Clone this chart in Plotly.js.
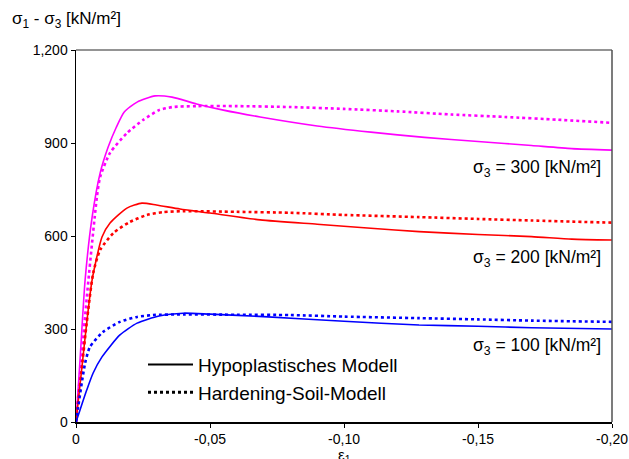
<!DOCTYPE html>
<html>
<head>
<meta charset="utf-8">
<script src="https://cdn.plot.ly/plotly-3.0.1.min.js"></script>
<style>html,body{margin:0;padding:0;background:#fff;}#chart{width:629px;height:459px;}</style>
</head>
<body>
<div id="chart"></div>
<script>
// strain eps1 (negative, compression) and deviatoric stress sigma1 - sigma3 [kN/m²]
const hypo300X = [0, -0.0015, -0.0034, -0.006, -0.009, -0.012, -0.015, -0.018, -0.0228, -0.0295, -0.0358, -0.045, -0.055, -0.0687, -0.09, -0.11, -0.13, -0.15, -0.17, -0.185, -0.2];
const hypo300Y = [0, 200, 458, 660, 803, 887, 950, 1000, 1032, 1052, 1048, 1026, 1006, 984, 955, 935, 918, 905, 892, 882, 877];
const hs300X = [0, -0.002, -0.004, -0.0078, -0.009, -0.0127, -0.019, -0.025, -0.031, -0.036, -0.045, -0.06, -0.08, -0.1, -0.12, -0.14, -0.16, -0.18, -0.2];
const hs300Y = [0, 200, 400, 726, 790, 868, 932, 974, 1006, 1016, 1019, 1019, 1016, 1010, 1002, 992, 984, 975, 965];

const hypo200X = [0, -0.002, -0.004, -0.006, -0.0097, -0.0127, -0.019, -0.0246, -0.030, -0.0388, -0.05, -0.0687, -0.09, -0.11, -0.128, -0.15, -0.17, -0.185, -0.2];
const hypo200Y = [0, 160, 320, 458, 597, 642, 690, 706, 700, 687, 674, 652, 638, 625, 614, 605, 598, 590, 587];
const hs200X = [0, -0.002, -0.004, -0.0064, -0.009, -0.014, -0.020, -0.0265, -0.0325, -0.04, -0.06, -0.08, -0.1, -0.128, -0.15, -0.17, -0.2];
const hs200Y = [0, 160, 320, 480, 555, 610, 645, 668, 677, 680, 678, 675, 668, 661, 655, 650, 643];

const hypo100X = [0, -0.0015, -0.004, -0.0064, -0.0097, -0.0164, -0.0228, -0.031, -0.04, -0.05, -0.07, -0.1, -0.128, -0.15, -0.17, -0.2];
const hypo100Y = [0, 39, 103, 158, 210, 281, 319, 342, 351, 348, 340, 325, 313, 309, 304, 300];
const hs100X = [0, -0.0008, -0.0034, -0.0052, -0.010, -0.0164, -0.0228, -0.0287, -0.04, -0.06, -0.08, -0.1, -0.128, -0.15, -0.17, -0.2];
const hs100Y = [0, 48, 190, 242, 290, 323, 339, 345, 347, 346, 345, 340, 335, 331, 327, 323];

const xTickVals = [0, -0.05, -0.10, -0.15, -0.20];
const xTickText = ['0', '-0,05', '-0,10', '-0,15', '-0,20'];
const yTickVals = [0, 300, 600, 900, 1200];
const yTickText = ['0', '300', '600', '900', '1,200'];

const legendNames = ['Hypoplastisches Modell', 'Hardening-Soil-Modell'];
const curveLabels = ['σ<sub>3</sub> = 300 [kN/m²]', 'σ<sub>3</sub> = 200 [kN/m²]', 'σ<sub>3</sub> = 100 [kN/m²]'];
const labelY = [819, 529, 245];

const solid = (x, y, c) => ({x, y, type: 'scatter', mode: 'lines', line: {color: c, width: 1.6, shape: 'spline', smoothing: 0.6}, showlegend: false, hoverinfo: 'skip'});
const dotted = (x, y, c) => ({x, y, type: 'scatter', mode: 'lines', line: {color: c, width: 2.6, dash: 'dot', shape: 'spline', smoothing: 0.6}, showlegend: false, hoverinfo: 'skip'});

const data = [
  solid(hypo300X, hypo300Y, '#ff00ff'),
  dotted(hs300X, hs300Y, '#ff00ff'),
  solid(hypo200X, hypo200Y, '#ff0000'),
  dotted(hs200X, hs200Y, '#ff0000'),
  solid(hypo100X, hypo100Y, '#0000ff'),
  dotted(hs100X, hs100Y, '#0000ff'),
  {x: [null], y: [null], type: 'scatter', mode: 'lines', name: legendNames[0], line: {color: '#000', width: 2}},
  {x: [null], y: [null], type: 'scatter', mode: 'lines', name: legendNames[1], line: {color: '#000', width: 3, dash: 'dot'}}
];

const layout = {
  width: 629, height: 459,
  margin: {l: 76, r: 17, t: 50, b: 37},
  paper_bgcolor: '#fff', plot_bgcolor: '#fff',
  font: {family: 'Liberation Sans, Arial, sans-serif', size: 14, color: '#000'},
  showlegend: true,
  legend: {x: 0.125, y: 0.205, xanchor: 'left', yanchor: 'top', bgcolor: 'rgba(0,0,0,0)', font: {size: 19}, itemwidth: 45, tracegroupgap: 0},
  xaxis: {
    range: [0, -0.2], showgrid: false, zeroline: false,
    showline: true, linecolor: '#000', linewidth: 1.5,
    ticks: 'outside', ticklen: 4, tickcolor: '#000',
    tickvals: xTickVals, ticktext: xTickText,
    tickfont: {size: 14}
  },
  yaxis: {
    range: [0, 1200], showgrid: false, zeroline: false,
    showline: true, linecolor: '#000', linewidth: 1.5,
    ticks: 'outside', ticklen: 4, tickcolor: '#000',
    tickvals: yTickVals, ticktext: yTickText,
    tickfont: {size: 14}
  },
  shapes: [
    {type: 'line', xref: 'paper', yref: 'paper', x0: 0, x1: 1, y0: 1, y1: 1, line: {color: '#707070', width: 1.5}},
    {type: 'line', xref: 'paper', yref: 'paper', x0: 1, x1: 1, y0: 0, y1: 1, line: {color: '#505050', width: 1.5}}
  ],
  annotations: [
    {xref: 'paper', yref: 'paper', x: -0.123, y: 1.08, xanchor: 'left', yanchor: 'middle', showarrow: false,
     text: 'σ<sub>1</sub> - σ<sub>3</sub> [kN/m²]', font: {size: 17}},
    {xref: 'paper', yref: 'paper', x: 0.5, y: -0.058, xanchor: 'center', yanchor: 'top', showarrow: false,
     text: 'ε<sub>1</sub>', font: {size: 15}},
    ...curveLabels.map((t, i) => ({xref: 'paper', yref: 'y', x: 0.983, y: labelY[i], xanchor: 'right', yanchor: 'middle', showarrow: false, text: t, font: {size: 17.5}}))
  ]
};

Plotly.newPlot('chart', data, layout, {displayModeBar: false, staticPlot: true});
</script>
</body>
</html>
